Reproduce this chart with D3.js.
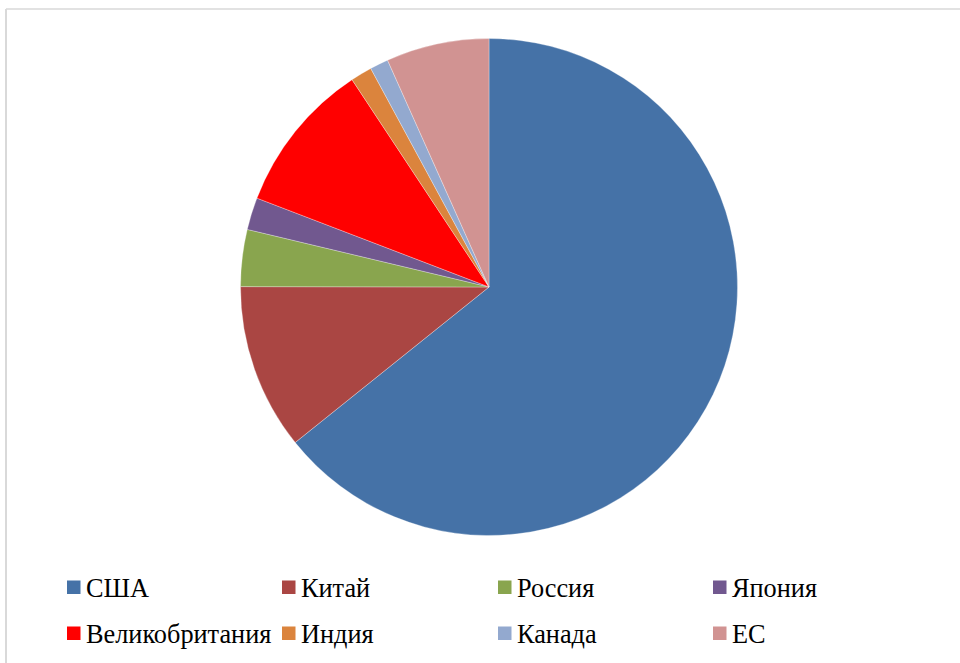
<!DOCTYPE html>
<html>
<head>
<meta charset="utf-8">
<script src="https://cdn.jsdelivr.net/npm/d3@7"></script>
<style>
html,body{margin:0;padding:0;background:#fff;}
svg{display:block;}
</style>
</head>
<body>
<svg id="chart" width="960" height="663"></svg>
<script>
const categories = ["США","Китай","Россия","Япония","Великобритания","Индия","Канада","ЕС"];
const values = [64.3, 10.8, 3.7, 2.1, 9.9, 1.4, 1.2, 6.7];
const colors = ["#4572A7","#AA4643","#89A54E","#71588F","#FF0000","#DB843D","#93A9CF","#D19392"];

const svg = d3.select("#chart");
const W = 960, H = 663;

// frame (cropped chart border)
svg.append("line").attr("x1",6).attr("y1",9).attr("x2",W).attr("y2",9)
  .attr("stroke","#d9d9d9").attr("stroke-width",1.5);
svg.append("line").attr("x1",6).attr("y1",9).attr("x2",6).attr("y2",H)
  .attr("stroke","#d9d9d9").attr("stroke-width",2);

const cx = 489, cy = 287, r = 248.5;
const data = categories.map((c,i)=>({name:c, value:values[i], color:colors[i]}));
const pie = d3.pie().sort(null).value(d=>d.value);
const arc = d3.arc().innerRadius(0).outerRadius(r);
const g = svg.append("g").attr("transform",`translate(${cx},${cy})`);
g.selectAll("path").data(pie(data)).join("path")
  .attr("d",arc)
  .attr("fill",d=>d.data.color)
  .attr("stroke","#ffffff").attr("stroke-width",0.5).attr("stroke-opacity",0.6);

// legend
const colX = [67, 282, 498, 713];
const rowY = [597, 643];
const sq = 13.5;
const leg = svg.append("g");
data.forEach((d,i)=>{
  const col = i % 4, row = Math.floor(i/4);
  const x = colX[col], y = rowY[row];
  leg.append("rect").attr("x",x).attr("y",y-16.5).attr("width",sq).attr("height",sq).attr("fill",d.color);
  leg.append("text").attr("x",x+19).attr("y",y)
    .attr("font-family","'Liberation Serif','Times New Roman',serif")
    .attr("font-size",26.3).attr("fill","#000").text(d.name);
});
</script>
</body>
</html>
